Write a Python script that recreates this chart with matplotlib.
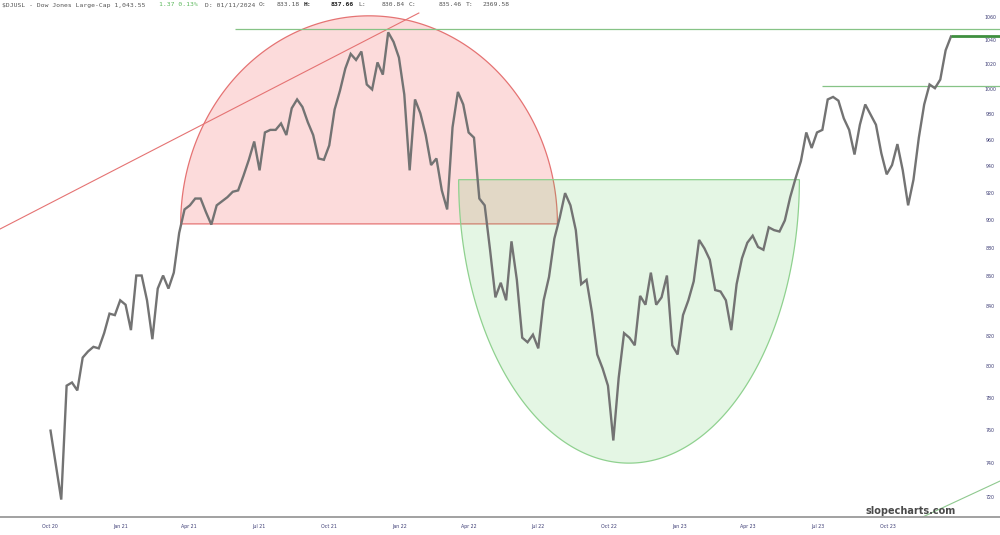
import numpy as np
import pandas as pd
import matplotlib
matplotlib.use('Agg')
import matplotlib.pyplot as plt
import matplotlib.dates as mdates
from matplotlib.patches import Polygon
from matplotlib.transforms import blended_transform_factory

# weekly closes of $DJUSL, Fri 2020-10-02 onwards
week_start = '2020-10-02'
closes = [760, 739, 719, 788, 790, 785, 806, 810, 813, 812,
          822, 835, 834, 844, 841, 824, 861, 861, 844, 818,
          852, 861, 852, 863, 891, 908, 911, 916, 916, 906,
          897, 911, 914, 917, 921, 922, 933, 945, 959, 937,
          966, 968, 968, 973, 964, 985, 992, 986, 974, 964,
          946, 945, 956, 984, 999, 1017, 1029, 1024, 1031, 1004,
          1000, 1022, 1012, 1047, 1039, 1026, 996, 937, 992, 981,
          964, 941, 946, 922, 908, 970, 998, 988, 966, 962,
          916, 911, 879, 846, 856, 844, 885, 858, 819, 816,
          821, 812, 844, 860, 887, 902, 920, 911, 893, 855,
          858, 836, 808, 799, 788, 754, 793, 822, 819, 814,
          847, 841, 863, 841, 846, 861, 814, 808, 834, 844,
          857, 886, 880, 872, 851, 850, 844, 824, 855, 873,
          884, 889, 881, 879, 895, 893, 892, 900, 917, 931,
          944, 966, 954, 966, 968, 992, 994, 991, 977, 968,
          949, 972, 988, 980, 972, 950, 934, 941, 957, 937,
          911, 930, 962, 988, 1004, 1001, 1008, 1032, 1043.55]
last_price = 1043.55

y_ticks = [720, 740, 760, 780, 800, 820, 840, 860, 880, 900,
           920, 940, 960, 980, 1000, 1020, 1040, 1060]
x_tick_dates = ['2020-10-01', '2021-01-01', '2021-04-01', '2021-07-01',
                '2021-10-01', '2022-01-01', '2022-04-01', '2022-07-01',
                '2022-10-01', '2023-01-01', '2023-04-01', '2023-07-01',
                '2023-10-01']
x_tick_labels = ['Oct 20', 'Jan 21', 'Apr 21', 'Jul 21', 'Oct 21', 'Jan 22',
                 'Apr 22', 'Jul 22', 'Oct 22', 'Jan 23', 'Apr 23', 'Jul 23',
                 'Oct 23']
x_range = ('2020-07-28', '2024-02-24')
y_range = (709, 1074.6)

# hand-drawn shapes on the chart
dome = ('2021-03-21', '2022-07-26', 897.5, 1061)    # left, right, base, top
bowl = ('2022-03-19', '2023-06-07', 930, 740.4)     # left, right, rim, bottom
red_trend = (('2020-07-28', 893.8), ('2022-01-26', 1063.4))
green_trend = (('2023-11-12', 708.4), ('2024-02-24', 729.8))
resist_high = ('2021-05-31', 1050)
resist_mid = ('2023-07-06', 1003)

header = [(2, '$DJUSL - Dow Jones Large-Cap 1,043.55', '#555555', 'normal'),
          (159, '1.37 0.13%', '#5cb85c', 'normal'),
          (205, 'D: 01/11/2024', '#555555', 'normal'),
          (259, 'O:', '#555555', 'normal'),
          (277, '833.18', '#555555', 'normal'),
          (304, 'H:', '#222222', 'bold'),
          (331, '837.66', '#222222', 'bold'),
          (358, 'L:', '#555555', 'normal'),
          (382, '830.84', '#555555', 'normal'),
          (409, 'C:', '#555555', 'normal'),
          (439, '835.46', '#555555', 'normal'),
          (466, 'T:', '#555555', 'normal'),
          (483, '2369.58', '#555555', 'normal')]


def dnum(d):
    return mdates.date2num(pd.Timestamp(d))


def half_ellipse(left, right, base, peak, n=300):
    # ellipse in (date, log price) space = ellipse on screen
    x0, x1 = dnum(left), dnum(right)
    t = np.linspace(0, np.pi, n)
    xs = (x0 + x1) / 2 + (x1 - x0) / 2 * np.cos(t)
    ys = np.exp(np.log(base) + (np.log(peak) - np.log(base)) * np.sin(t))
    return np.column_stack([xs, ys])


dates = pd.date_range(week_start, periods=len(closes), freq='W-FRI')

fig = plt.figure(figsize=(10, 5.35), dpi=100)
ax = fig.add_axes([0, 18 / 535, 1, 517 / 535])
ax.set_yscale('log')

ax.add_patch(Polygon(half_ellipse(*dome), closed=True,
                     facecolor=(0.94, 0.31, 0.31, 0.2),
                     edgecolor='#e57373', lw=0.9, zorder=1))
ax.add_patch(Polygon(half_ellipse(*bowl), closed=True,
                     facecolor=(0.31, 0.78, 0.31, 0.15),
                     edgecolor='#8fd18f', lw=0.9, zorder=1))

(a, pa), (b, pb) = red_trend
ax.plot([dnum(a), dnum(b)], [pa, pb], color='#e57373', lw=0.8, zorder=2)
(a, pa), (b, pb) = green_trend
ax.plot([dnum(a), dnum(b)], [pa, pb], color='#8fc98f', lw=0.8, zorder=2)
ax.hlines(resist_high[1], dnum(resist_high[0]), dnum(x_range[1]),
          color='#86c386', lw=0.9, zorder=2)
ax.hlines(resist_mid[1], dnum(resist_mid[0]), dnum(x_range[1]),
          color='#86c386', lw=0.9, zorder=2)

ax.plot(mdates.date2num(dates), closes, color='#737373', lw=1.7,
        solid_joinstyle='miter', zorder=3)
ax.hlines(last_price, mdates.date2num(dates[-1]), dnum(x_range[1]),
          color='#3f8f3f', lw=2, zorder=3)

ax.set_xlim(dnum(x_range[0]), dnum(x_range[1]))
ax.set_ylim(*y_range)

ax.yaxis.set_major_locator(plt.NullLocator())
ax.yaxis.set_minor_locator(plt.NullLocator())
trans = blended_transform_factory(ax.transAxes, ax.transData)
for v in y_ticks:
    ax.text(0.990, v, str(v), transform=trans, ha='center', va='center',
            fontsize=3.4, color='#3d3d75')

ax.set_xticks([dnum(d) for d in x_tick_dates])
ax.set_xticklabels(x_tick_labels, fontsize=3.4, color='#3d3d75')
ax.tick_params(axis='x', length=0, pad=5)

for s in ['top', 'left', 'right']:
    ax.spines[s].set_visible(False)
ax.spines['bottom'].set_color('#9a9a9a')
ax.spines['bottom'].set_linewidth(1.3)

for x, txt, col, w in header:
    fig.text(x / 1000, 1 - 5 / 535, txt, fontsize=4.6, color=col,
             fontweight=w, family='DejaVu Sans Mono', va='center')

fig.text(911 / 1000, 1 - 511 / 535, 'slopecharts.com', fontsize=7,
         fontweight='bold', color='#4a4a4a', ha='center', va='center')

fig.savefig('out.png', dpi=100)
